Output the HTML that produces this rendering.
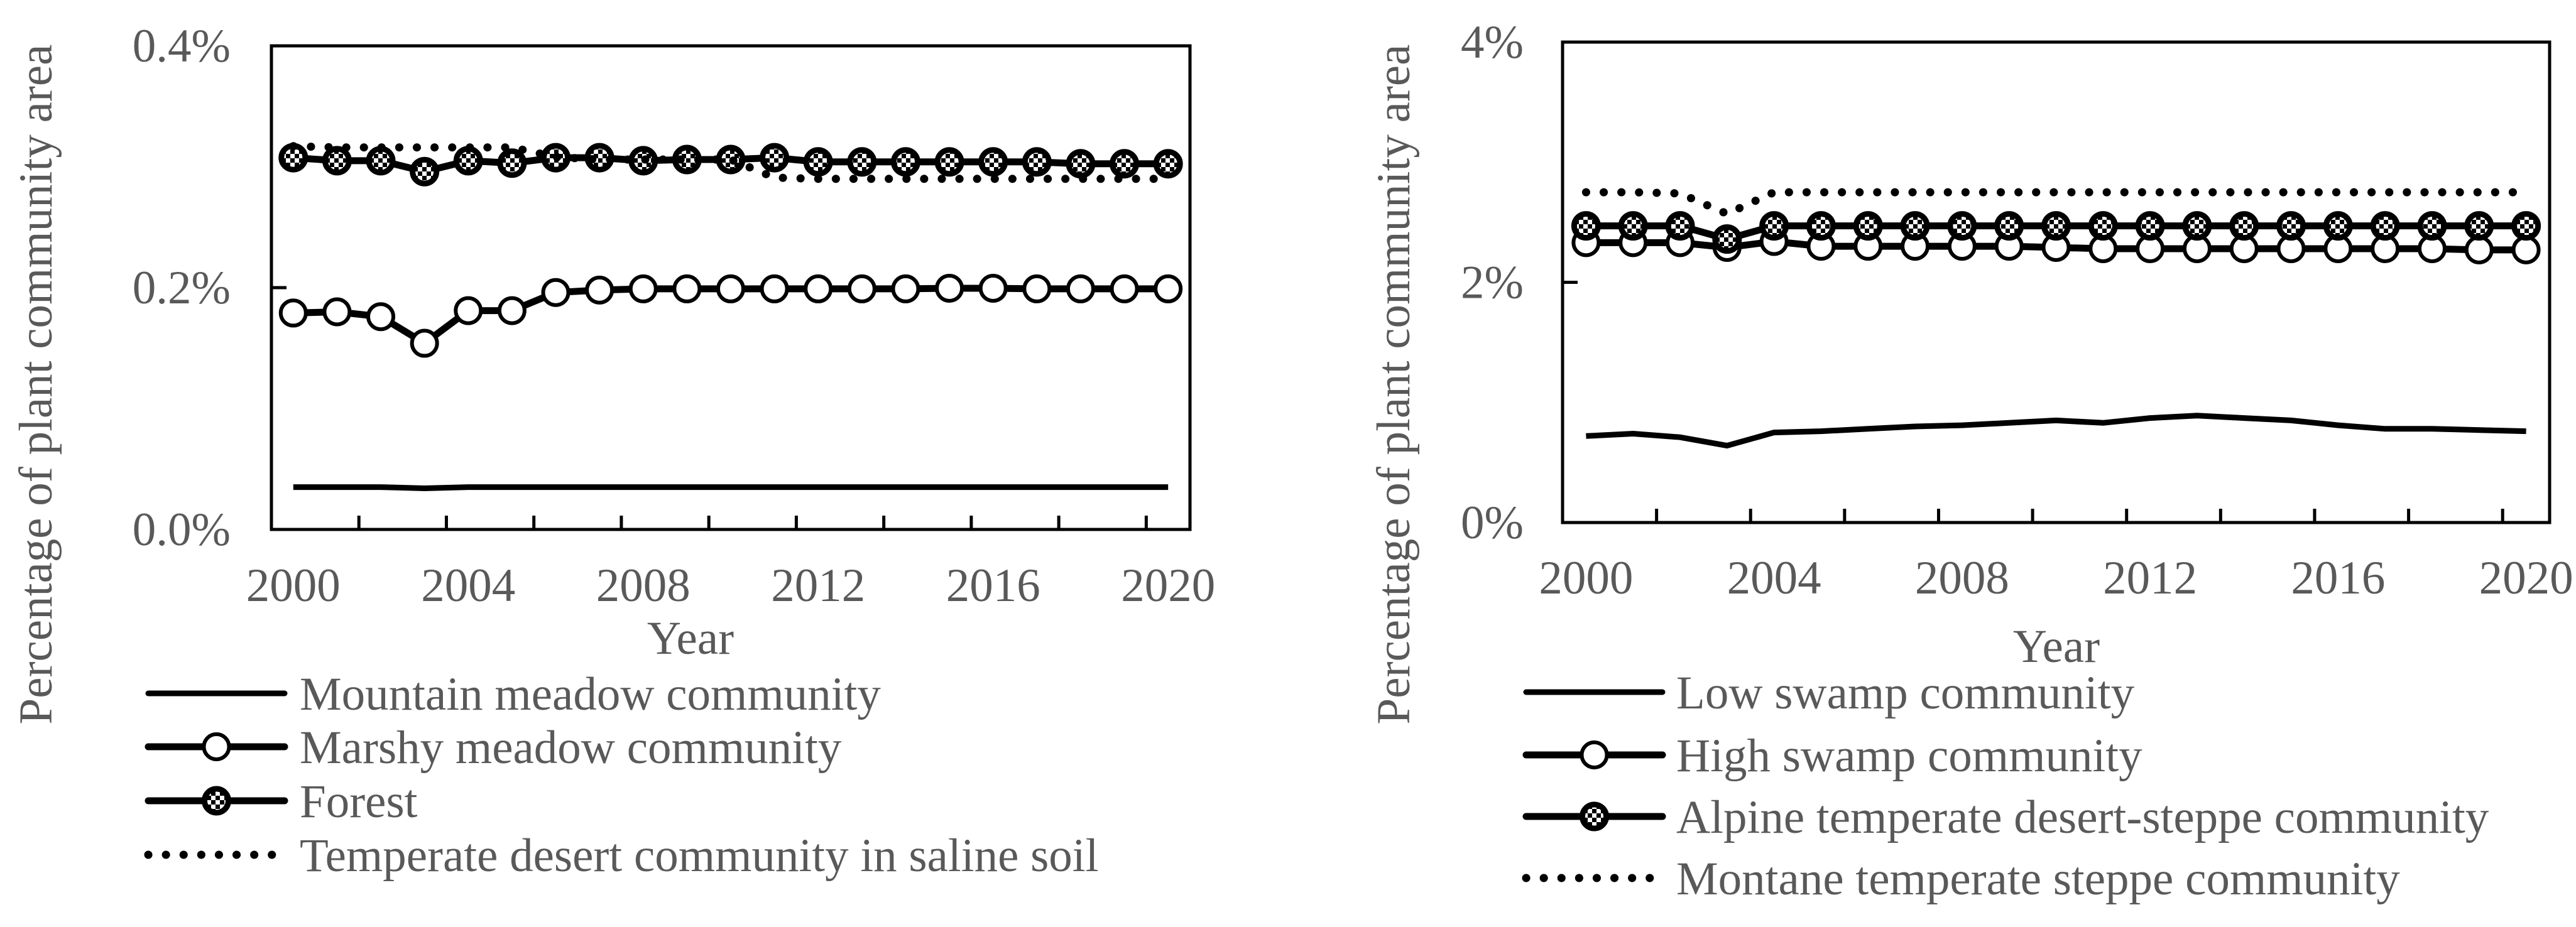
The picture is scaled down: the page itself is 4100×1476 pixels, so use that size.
<!DOCTYPE html>
<html><head><meta charset="utf-8"><style>
html,body{margin:0;padding:0;background:#fff}
svg{display:block}
text{font-family:"Liberation Serif",serif;fill:#595959}
</style></head><body>
<svg id="root" width="4100" height="1476" viewBox="0 0 4100 1476" xmlns="http://www.w3.org/2000/svg">
<defs>
<pattern id="chk" width="14" height="14" patternUnits="userSpaceOnUse">
<rect width="14" height="14" fill="#fff"/><rect width="7" height="7" fill="#000"/><rect x="7" y="7" width="7" height="7" fill="#000"/>
</pattern>
</defs>
<g id="left"></g>
<g id="right"></g>
</svg>
<script>
const years = [2000,2001,2002,2003,2004,2005,2006,2007,2008,2009,2010,2011,2012,2013,2014,2015,2016,2017,2018,2019,2020];
const xTickLabels = ["2000","2004","2008","2012","2016","2020"];
const leftYTicks = [0,0.2,0.4];
const leftYTickLabels = ["0.0%","0.2%","0.4%"];
const mountainMeadow = [0.035,0.035,0.035,0.034,0.035,0.035,0.035,0.035,0.035,0.035,0.035,0.035,0.035,0.035,0.035,0.035,0.035,0.035,0.035,0.035,0.035];
const marshyMeadow = [0.179,0.180,0.176,0.154,0.181,0.181,0.196,0.198,0.199,0.199,0.199,0.199,0.199,0.199,0.199,0.1995,0.1995,0.199,0.199,0.199,0.199];
const forest = [0.3075,0.305,0.305,0.296,0.305,0.303,0.3075,0.3075,0.305,0.306,0.306,0.3075,0.304,0.304,0.304,0.304,0.304,0.304,0.3025,0.3025,0.3025];
const temperateDesert = [0.317,0.316,0.316,0.316,0.316,0.316,0.308,0.306,0.306,0.306,0.306,0.291,0.290,0.290,0.290,0.290,0.290,0.290,0.290,0.290,0.290];
const rightYTicks = [0,2,4];
const rightYTickLabels = ["0%","2%","4%"];
const lowSwamp = [0.72,0.74,0.71,0.64,0.75,0.76,0.78,0.80,0.81,0.83,0.85,0.83,0.87,0.89,0.87,0.85,0.81,0.78,0.78,0.77,0.76];
const highSwamp = [2.33,2.33,2.33,2.29,2.34,2.30,2.30,2.30,2.30,2.30,2.29,2.28,2.28,2.28,2.28,2.28,2.28,2.28,2.28,2.27,2.27];
const alpineSteppe = [2.47,2.47,2.47,2.36,2.47,2.47,2.47,2.47,2.47,2.47,2.47,2.47,2.47,2.47,2.47,2.47,2.47,2.47,2.47,2.47,2.47];
const montaneSteppe = [2.75,2.75,2.74,2.57,2.75,2.75,2.75,2.75,2.75,2.75,2.75,2.75,2.75,2.75,2.75,2.75,2.75,2.75,2.75,2.75,2.75];

const NS="http://www.w3.org/2000/svg";
const FS=75;
function mk(tag,attrs,parent){const e=document.createElementNS(NS,tag);for(const k in attrs)e.setAttribute(k,attrs[k]);parent.appendChild(e);return e;}
function txt(parent,x,y,s,anchor,size){const t=mk('text',{x:x,y:y,'text-anchor':anchor,'font-size':size},parent);t.textContent=s;return t;}

function drawChart(g,cfg){
  const L=cfg.left,R=cfg.right,T=cfg.top,B=cfg.bottom;
  const n=years.length, w=(R-L)/n;
  const xs=i=>L+(i+0.5)*w;
  const ys=v=>B-(v-cfg.ymin)/(cfg.ymax-cfg.ymin)*(B-T);
  const box=mk('rect',{x:L,y:T,width:R-L,height:B-T,fill:'none',stroke:'#000','stroke-width':5},g);
  
  
  for(let k=2;k<n;k+=2){
    const tk=mk('line',{x1:L+k*w,x2:L+k*w,y1:B,y2:B-22,stroke:'#000','stroke-width':5},g);
    
    
  }
  cfg.yticks.forEach((v,i)=>{
    const y=ys(v);
    const tk=mk('line',{x1:L,x2:L+24,y1:y,y2:y,stroke:'#000','stroke-width':5},g);
    
    
    const t=txt(g,cfg.ylabX,y+25,cfg.ylabels[i],'end',FS);
    
    
  });
  xTickLabels.forEach(s=>{
    const i=years.indexOf(+s);
    const t=txt(g,xs(i),cfg.xlabY,s,'middle',FS);
    
    
  });
  const xt=txt(g,cfg.xtitleX,cfg.xtitleY,'Year','middle',FS);
  
  
  const yt=mk('text',{x:0,y:0,'text-anchor':'middle','font-size':FS,transform:`translate(${cfg.ytitleX},${cfg.ytitleY}) rotate(-90)`},g);
  yt.textContent='Percentage of plant community area';
  
  

  cfg.series.forEach((s,si)=>{
    const sg=mk('g',{},g);
    
    
    const pts=s.data.map((v,i)=>xs(i).toFixed(1)+','+ys(v).toFixed(1)).join(' ');
    const line=mk('polyline',{points:pts,fill:'none',stroke:'#000','stroke-linejoin':'round'},sg);
    styleLine(line,s.style);
    
    
    if(s.style!=='plain'&&s.style!=='dot'){
      s.data.forEach((v,i)=>{
        const c=marker(sg,xs(i),ys(v),s.style);
        
        
      });
    }
    const ly=cfg.legY[si];
    const lg=mk('g',{},g);
    
    
    const ll=mk('line',{x1:cfg.legX1,x2:cfg.legX2,y1:ly,y2:ly,stroke:'#000','stroke-linecap':'round'},lg);
    styleLine(ll,s.style);
    if(s.style==='open'||s.style==='check') marker(lg,(cfg.legX1+cfg.legX2)/2,ly,s.style);
    txt(lg,cfg.legTX,ly+26,s.label,'start',FS);
  });
}
function styleLine(l,style){
  if(style==='plain'){l.setAttribute('stroke-width',9);}
  else if(style==='dot'){l.setAttribute('stroke-width',13);l.setAttribute('stroke-linecap','round');l.setAttribute('stroke-dasharray','0.1 28');}
  else {l.setAttribute('stroke-width',11);}
}
function marker(g,x,y,style){
  if(style==='open') return mk('circle',{cx:x,cy:y,r:20,fill:'#fff',stroke:'#000','stroke-width':6},g);
  return mk('circle',{cx:x,cy:y,r:19,fill:'url(#chk)',stroke:'#000','stroke-width':9},g);
}

drawChart(document.getElementById('left'),{
  left:432,right:1894,top:73,bottom:843,ymin:0,ymax:0.4,
  yticks:leftYTicks,ylabels:leftYTickLabels,ylabX:367,xlabY:957,
  xtitleX:1099,xtitleY:1041,ytitleX:82,ytitleY:612,
  legX1:236,legX2:453,legTX:477,legY:[1104,1189,1275,1361],
  series:[
    {key:'mountain-meadow',data:mountainMeadow,style:'plain',label:'Mountain meadow community'},
    {key:'marshy-meadow',data:marshyMeadow,style:'open',label:'Marshy meadow community'},
    {key:'forest',data:forest,style:'check',label:'Forest'},
    {key:'temperate-desert',data:temperateDesert,style:'dot',label:'Temperate desert community in saline soil'}
  ]
});
drawChart(document.getElementById('right'),{
  left:2487,right:4058,top:67,bottom:832,ymin:0,ymax:4,
  yticks:rightYTicks,ylabels:rightYTickLabels,ylabX:2425,xlabY:945,
  xtitleX:3273,xtitleY:1054,ytitleX:2243,ytitleY:612,
  legX1:2429,legX2:2646,legTX:2668,legY:[1102,1202,1300,1398],
  series:[
    {key:'low-swamp',data:lowSwamp,style:'plain',label:'Low swamp community'},
    {key:'high-swamp',data:highSwamp,style:'open',label:'High swamp community'},
    {key:'alpine-desert-steppe',data:alpineSteppe,style:'check',label:'Alpine temperate desert-steppe community'},
    {key:'montane-steppe',data:montaneSteppe,style:'dot',label:'Montane temperate steppe community'}
  ]
});
</script>
</body></html>
